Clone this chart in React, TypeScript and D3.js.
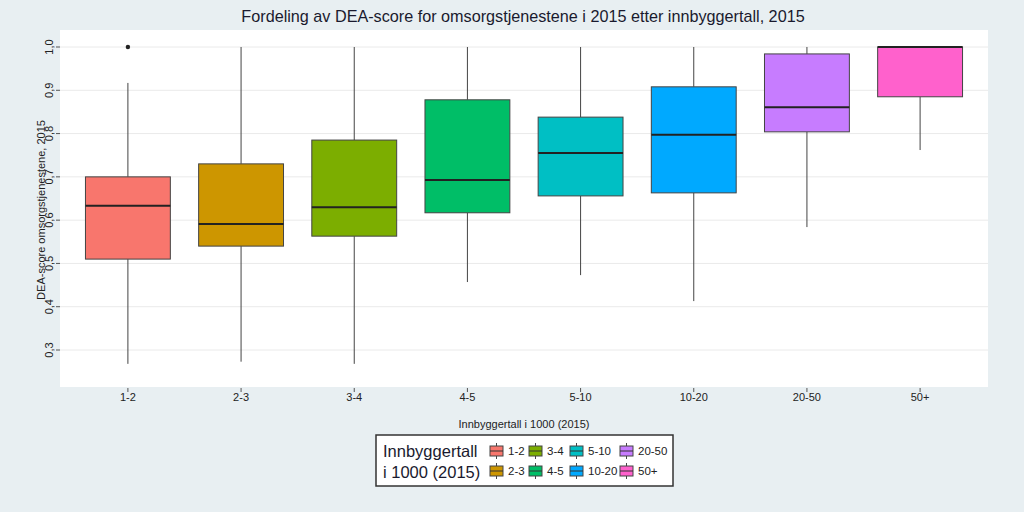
import React from "react";
import * as d3 from "d3";

const categories = ["1-2", "2-3", "3-4", "4-5", "5-10", "10-20", "20-50", "50+"];
const whiskerLow = [0.268, 0.273, 0.268, 0.457, 0.473, 0.413, 0.584, 0.762];
const q1 = [0.51, 0.54, 0.563, 0.617, 0.656, 0.663, 0.804, 0.885];
const medians = [0.633, 0.591, 0.63, 0.693, 0.755, 0.797, 0.861, 1.0];
const q3 = [0.7, 0.73, 0.785, 0.878, 0.838, 0.908, 0.984, 1.0];
const whiskerHigh = [0.917, 1.0, 1.0, 1.0, 1.0, 1.0, 1.0, 1.0];
const outliers = [{ cat: "1-2", value: 1.0 }];
const colors = ["#F8766D", "#CD9600", "#7CAE00", "#00BE67", "#00BFC4", "#00A9FF", "#C77CFF", "#FF61CC"];
const yTicks = [0.3, 0.4, 0.5, 0.6, 0.7, 0.8, 0.9, 1.0];

const W = 1024, H = 512;
const plot = { left: 60, right: 988, top: 30, bottom: 387 };
const font = "Arial, 'Liberation Sans', sans-serif";

export default function App() {
  const x = d3.scalePoint<string>().domain(categories).range([plot.left, plot.right]).padding(0.6);
  const y = d3.scaleLinear().domain([0.3, 1.0]).range([350, 47]);
  const boxW = x.step() * 0.75;
  const fmt = (v: number) => v.toFixed(1).replace(".", ",");

  const legendCols = [
    [0, 1],
    [2, 3],
    [4, 5],
    [6, 7],
  ];
  const colX = [490, 529, 570, 620];
  const rowY = [451, 471];

  return (
    <svg width={W} height={H} style={{ position: "absolute", left: 0, top: 0 }} fontFamily={font}>
      <rect x={0} y={0} width={W} height={H} fill="#E8EFF2" />
      <rect x={plot.left} y={plot.top} width={plot.right - plot.left} height={plot.bottom - plot.top} fill="#ffffff" />
      {yTicks.map((t) => (
        <g key={t}>
          <line x1={plot.left} x2={plot.right} y1={y(t)} y2={y(t)} stroke="#EAEAEA" strokeWidth={1} />
          <line x1={56} x2={plot.left} y1={y(t)} y2={y(t)} stroke="#555" strokeWidth={1} />
          <text
            transform={`translate(53,${y(t)}) rotate(-90)`}
            textAnchor="middle"
            fontSize={11}
            fill="#222"
          >
            {fmt(t)}
          </text>
        </g>
      ))}
      <text transform={`translate(45,${210}) rotate(-90)`} textAnchor="middle" fontSize={11} fill="#222">
        DEA-score omsorgstjenestene, 2015
      </text>
      {categories.map((c, i) => {
        const cx = x(c)!;
        return (
          <g key={c}>
            <line x1={cx} x2={cx} y1={plot.bottom + 1} y2={plot.bottom + 5} stroke="#555" />
            <text x={cx} y={401} textAnchor="middle" fontSize={11} fill="#222">
              {c}
            </text>
            <line x1={cx} x2={cx} y1={y(whiskerHigh[i])} y2={y(q3[i])} stroke="#444" strokeWidth={1} />
            <line x1={cx} x2={cx} y1={y(q1[i])} y2={y(whiskerLow[i])} stroke="#444" strokeWidth={1} />
            <rect
              x={cx - boxW / 2}
              y={y(q3[i])}
              width={boxW}
              height={y(q1[i]) - y(q3[i])}
              fill={colors[i]}
              stroke="#444"
              strokeWidth={1}
            />
            <line
              x1={cx - boxW / 2}
              x2={cx + boxW / 2}
              y1={y(medians[i])}
              y2={y(medians[i])}
              stroke="#222"
              strokeWidth={2}
            />
          </g>
        );
      })}
      {outliers.map((o, i) => (
        <circle key={i} cx={x(o.cat)!} cy={y(o.value)} r={2.2} fill="#222" />
      ))}
      <text x={523} y={22} textAnchor="middle" fontSize={16.2} fill="#1a1a2e">
        Fordeling av DEA-score for omsorgstjenestene i 2015 etter innbyggertall, 2015
      </text>
      <text x={524} y={428} textAnchor="middle" fontSize={11} fill="#222">
        Innbyggertall i 1000 (2015)
      </text>
      <rect x={376} y={435} width={297} height={51} fill="#ffffff" stroke="#333" strokeWidth={1.5} />
      <text x={383} y={457} fontSize={16.5} fill="#1a1a2e">Innbyggertall</text>
      <text x={383} y={478} fontSize={16.5} fill="#1a1a2e">i 1000 (2015)</text>
      {legendCols.map((col, ci) =>
        col.map((idx, ri) => {
          const kx = colX[ci];
          const ky = rowY[ri];
          return (
            <g key={idx}>
              <line x1={kx + 6.5} x2={kx + 6.5} y1={ky - 8} y2={ky + 8} stroke="#444" />
              <rect x={kx} y={ky - 5} width={13} height={10} fill={colors[idx]} stroke="#444" strokeWidth={1} />
              <line x1={kx} x2={kx + 13} y1={ky} y2={ky} stroke="#333" strokeWidth={1} />
              <text x={kx + 18} y={ky + 4} fontSize={11.5} fill="#222">
                {categories[idx]}
              </text>
            </g>
          );
        })
      )}
    </svg>
  );
}
